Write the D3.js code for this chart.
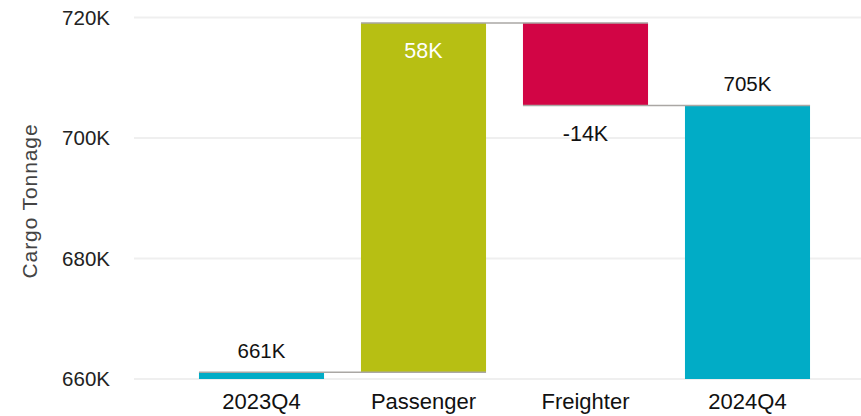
<!DOCTYPE html>
<html>
<head>
<meta charset="utf-8">
<script src="https://cdn.jsdelivr.net/npm/d3@7"></script>
<style>
  html, body { margin: 0; padding: 0; background: #fff; }
  svg { display: block; }
  text { font-family: "Liberation Sans", Arial, sans-serif; }
</style>
</head>
<body>
<svg id="chart" width="861" height="416"></svg>
<script>
// Waterfall: cargo tonnage bridge from 2023Q4 to 2024Q4 (values in thousands)
const categories = ["2023Q4", "Passenger", "Freighter", "2024Q4"];
const stepKinds  = ["total", "delta", "delta", "total"];
const stepValues = [661.1, 58.0, -13.7, 705.4];
const yTicks = [660, 680, 700, 720];
const yLabel = "Cargo Tonnage";

const colors = { total: "#01acc6", up: "#b7bf13", down: "#d20545" };

// Build running start/end per step
let running = 0;
const steps = categories.map((c, i) => {
  let start, end;
  if (stepKinds[i] === "total") { start = 660; end = stepValues[i]; running = stepValues[i]; }
  else { start = running; end = running + stepValues[i]; running = end; }
  return { cat: c, kind: stepKinds[i], value: stepValues[i], start, end };
});

const svg = d3.select("#chart");
const x = d3.scaleBand().domain(categories).range([180.5, 828.5])
  .paddingInner(0.228).paddingOuter(0.114);
const y = d3.scaleLinear().domain([660, 720]).range([379, 17.5]);

// Gridlines
svg.append("g").selectAll("line").data(yTicks).join("line")
  .attr("x1", 134).attr("x2", 861)
  .attr("y1", d => y(d)).attr("y2", d => y(d))
  .attr("stroke", "#efefef").attr("stroke-width", 2);

// Y axis tick labels
const yAxis = d3.axisLeft(y).tickValues(yTicks).tickFormat(d => d + "K").tickSize(0).tickPadding(0);
const yg = svg.append("g").attr("transform", "translate(110,0)").call(yAxis);
yg.select(".domain").remove();
yg.selectAll("text").attr("font-size", 20.5).attr("fill", "#222")
  .attr("font-family", "'Liberation Sans', Arial, sans-serif");

// Y axis title
svg.append("text")
  .attr("transform", "translate(37,201) rotate(-90)")
  .attr("text-anchor", "middle")
  .attr("font-size", 21).attr("letter-spacing", 0.9).attr("fill", "#444")
  .text(yLabel);

// X axis category labels
const xAxis = d3.axisBottom(x).tickSize(0).tickPadding(0);
const xg = svg.append("g").attr("transform", "translate(0,394)").call(xAxis);
xg.select(".domain").remove();
xg.selectAll("text").attr("font-size", 22).attr("fill", "#111")
  .attr("dy", "0.68em").attr("y", 0)
  .attr("font-family", "'Liberation Sans', Arial, sans-serif");

// Bars
const colorOf = s => s.kind === "total" ? colors.total : (s.value >= 0 ? colors.up : colors.down);
svg.append("g").selectAll("rect").data(steps).join("rect")
  .attr("x", d => x(d.cat))
  .attr("width", x.bandwidth())
  .attr("y", d => y(Math.max(d.start, d.end)))
  .attr("height", d => Math.abs(y(d.start) - y(d.end)))
  .attr("fill", colorOf);

// Connectors from each step's end level across the next bar
svg.append("g").selectAll("line").data(steps.slice(0, -1)).join("line")
  .attr("x1", d => x(d.cat))
  .attr("x2", (d, i) => x(categories[i + 1]) + x.bandwidth())
  .attr("y1", d => y(d.end)).attr("y2", d => y(d.end))
  .attr("stroke", "#aaa7a4").attr("stroke-width", 1.5);

// Value labels
const fmt = d => (d < 0 ? "-" : "") + Math.round(Math.abs(d)) + "K";
const lbl = svg.append("g");
steps.forEach(s => {
  const cx = x(s.cat) + x.bandwidth() / 2;
  if (s.kind === "total") {
    lbl.append("text").attr("x", cx).attr("y", y(s.end) - 22)
      .attr("text-anchor", "middle").attr("dy", "0.35em")
      .attr("font-size", 20.5).attr("fill", "#111").text(fmt(s.value));
  } else if (s.value >= 0) {
    lbl.append("text").attr("x", cx).attr("y", y(s.end) + 28)
      .attr("text-anchor", "middle").attr("dy", "0.35em")
      .attr("font-family", "'Segoe UI', 'Noto Sans', sans-serif")
      .attr("font-size", 21.5).attr("fill", "#fff").text(fmt(s.value));
  } else {
    lbl.append("text").attr("x", cx).attr("y", y(s.end) + 28)
      .attr("text-anchor", "middle").attr("dy", "0.35em")
      .attr("font-family", "'Segoe UI', 'Noto Sans', sans-serif")
      .attr("font-size", 21.5).attr("fill", "#111").text(fmt(s.value));
  }
});
</script>
</body>
</html>
